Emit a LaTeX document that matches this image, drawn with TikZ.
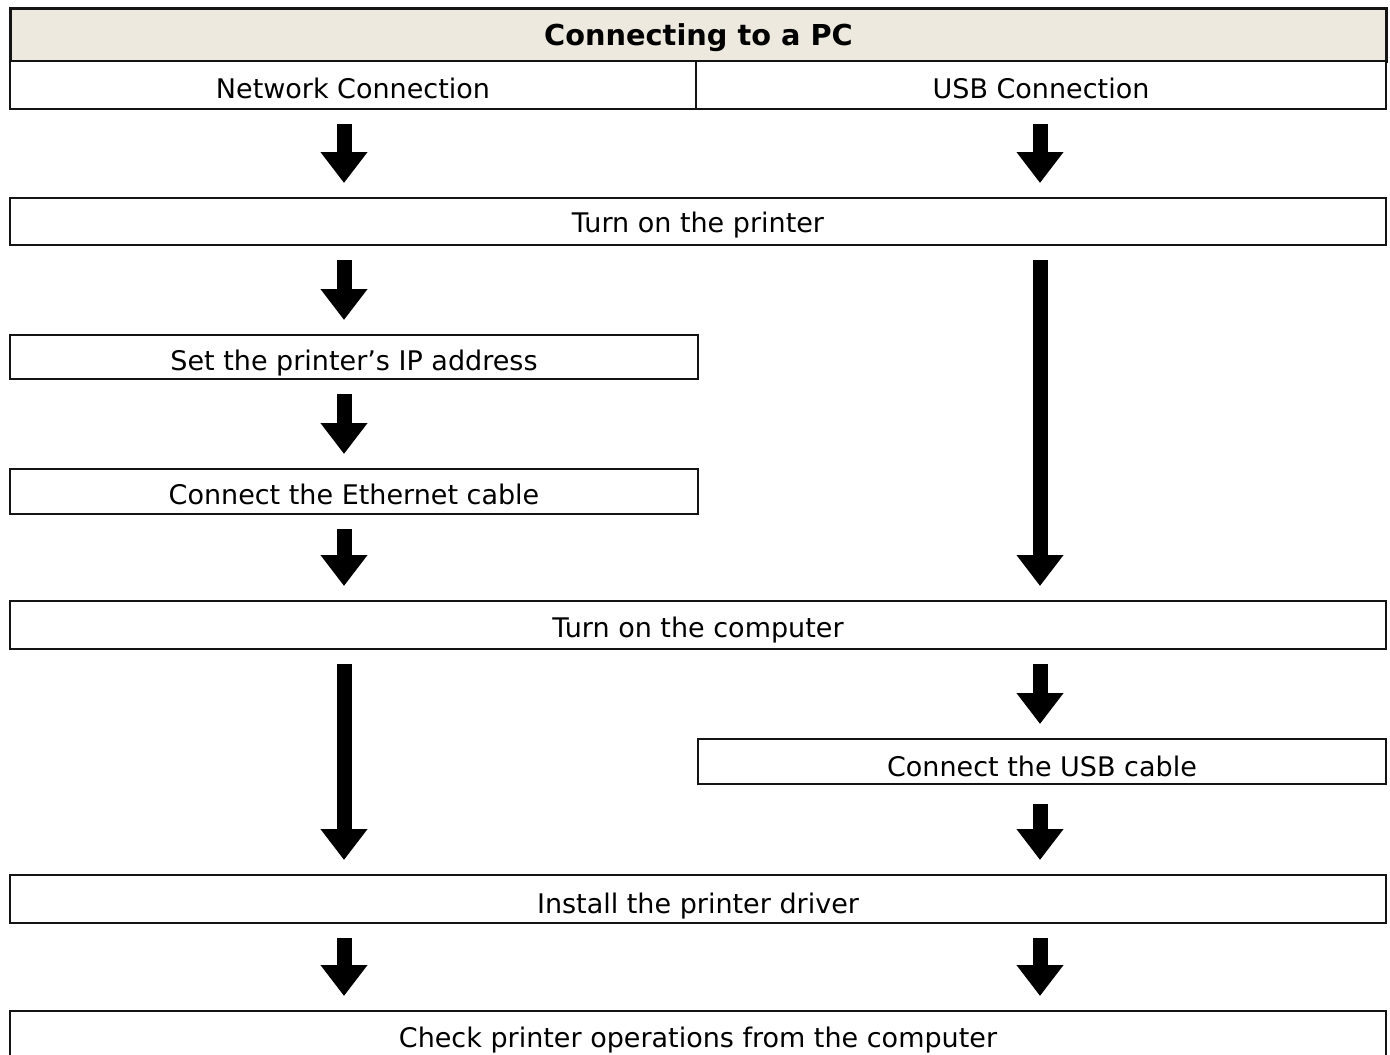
\documentclass[tikz,border=0pt]{standalone}
\usepackage{fontspec}
\setmainfont{DejaVu Sans}
\usetikzlibrary{arrows.meta}
\definecolor{titlefill}{RGB}{237,233,223}
\definecolor{edge}{RGB}{20,20,20}
\begin{document}
\begin{tikzpicture}[x=1pt,y=-1pt,
  box/.style={draw=edge,line width=2pt,fill=white,inner sep=0pt,anchor=north west},
  titlebox/.style={box,line width=3pt,fill=titlefill},
  txt/.style={inner sep=0pt,anchor=base,font=\fontsize{27}{30}\selectfont},
  ttxt/.style={inner sep=0pt,anchor=base,font=\fontsize{28.8}{32}\selectfont\bfseries},
  flow/.style={line width=15pt,-{Triangle[width=45pt,length=31pt]},shorten <=14pt,shorten >=14pt}]
\useasboundingbox (0,0) rectangle (1390,1055);
\clip (0,0) rectangle (1390,1055);
\coordinate (L) at (344,0);
\coordinate (R) at (1040,0);
% title and header row
\node[titlebox,minimum width=1376pt,minimum height=53pt] (title) at (9,7) {};
\node[ttxt] (titlet) at ([yshift=17.5pt]title.south) {Connecting to a PC};
\node[box,minimum width=686pt,minimum height=48pt] (net) at (9,60) {};
\node[txt] (nett) at ([yshift=12pt]net.south) {Network Connection};
\node[box,minimum width=690pt,minimum height=48pt] (usb) at (695,60) {};
\node[txt] (usbt) at ([yshift=12pt]usb.south) {USB Connection};
% steps
\node[box,minimum width=1376pt,minimum height=47pt] (pon) at (9,197) {};
\node[txt] (pont) at ([yshift=13.5pt]pon.south) {Turn on the printer};
\node[box,minimum width=688pt,minimum height=44pt] (ip) at (9,334) {};
\node[txt] (ipt) at ([yshift=9.5pt]ip.south) {Set the printer’s IP address};
\node[box,minimum width=688pt,minimum height=45pt] (eth) at (9,468) {};
\node[txt] (etht) at ([yshift=10.5pt]eth.south) {Connect the Ethernet cable};
\node[box,minimum width=1376pt,minimum height=48pt] (con) at (9,600) {};
\node[txt] (cont) at ([yshift=12.5pt]con.south) {Turn on the computer};
\node[box,minimum width=688pt,minimum height=45pt] (cab) at (697,738) {};
\node[txt] (cabt) at ([yshift=9pt]cab.south) {Connect the USB cable};
\node[box,minimum width=1376pt,minimum height=48pt] (drv) at (9,874) {};
\node[txt] (drvt) at ([yshift=10.5pt]drv.south) {Install the printer driver};
\node[box,minimum width=1376pt,minimum height=70pt] (chk) at (9,1010) {};
\node[txt] (chkt) at ([yshift=-37pt]chk.north) {Check printer operations from the computer};
% arrows
\draw[flow] (net.south -| L) -- (pon.north -| L);
\draw[flow] (usb.south -| R) -- (pon.north -| R);
\draw[flow] (pon.south -| L) -- (ip.north -| L);
\draw[flow] (pon.south -| R) -- (con.north -| R);
\draw[flow] (ip.south -| L) -- (eth.north -| L);
\draw[flow] (eth.south -| L) -- (con.north -| L);
\draw[flow] (con.south -| L) -- (drv.north -| L);
\draw[flow] (con.south -| R) -- (cab.north -| R);
\draw[flow,shorten <=19pt] (cab.south -| R) -- (drv.north -| R);
\draw[flow] (drv.south -| L) -- (chk.north -| L);
\draw[flow] (drv.south -| R) -- (chk.north -| R);
\end{tikzpicture}
\end{document}
